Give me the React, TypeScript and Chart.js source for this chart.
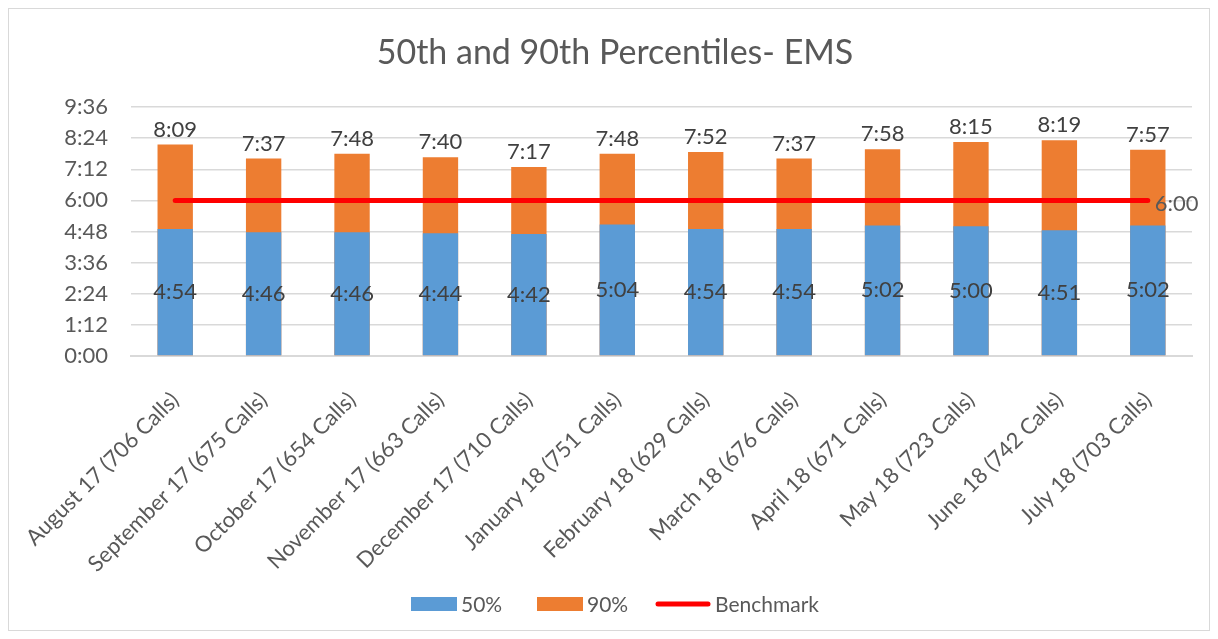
import { useEffect, useRef } from "react";
import { Chart, registerables } from "chart.js";

Chart.register(...registerables);

const categories = [
  "August 17 (706 Calls)",
  "September 17 (675 Calls)",
  "October 17 (654 Calls)",
  "November 17 (663 Calls)",
  "December 17 (710 Calls)",
  "January 18 (751 Calls)",
  "February 18 (629 Calls)",
  "March 18 (676 Calls)",
  "April 18 (671 Calls)",
  "May 18 (723 Calls)",
  "June 18 (742 Calls)",
  "July 18 (703 Calls)",
];
const p50 = ["4:54", "4:46", "4:46", "4:44", "4:42", "5:04", "4:54", "4:54", "5:02", "5:00", "4:51", "5:02"];
const p90 = ["8:09", "7:37", "7:48", "7:40", "7:17", "7:48", "7:52", "7:37", "7:58", "8:15", "8:19", "7:57"];
const benchmark = ["6:00", "6:00", "6:00", "6:00", "6:00", "6:00", "6:00", "6:00", "6:00", "6:00", "6:00", "6:00"];
const yTickLabels = ["0:00", "1:12", "2:24", "3:36", "4:48", "6:00", "7:12", "8:24", "9:36"];

const toSec = (s: string) => {
  const [m, ss] = s.split(":").map(Number);
  return m * 60 + ss;
};
const fmt = (v: number) => `${Math.floor(v / 60)}:${String(Math.round(v % 60)).padStart(2, "0")}`;

const FONT = "Lato, 'Open Sans', sans-serif";
const TEXT = "#595959";
const LABEL = "#404040";
const BLUE = "#5B9BD5";
const ORANGE = "#ED7D31";
const RED = "#FF0000";

const labelPlugin = {
  id: "valueLabels",
  afterDatasetsDraw(chart: any) {
    const ctx = chart.ctx;
    ctx.save();
    ctx.font = `22px ${FONT}`;
    ctx.fillStyle = LABEL;
    ctx.textAlign = "center";
    ctx.textBaseline = "middle";
    const m50 = chart.getDatasetMeta(0);
    m50.data.forEach((bar: any, i: number) => {
      ctx.fillText(p50[i], bar.x, (bar.y + bar.base) / 2);
    });
    const m90 = chart.getDatasetMeta(1);
    m90.data.forEach((bar: any, i: number) => {
      ctx.fillText(p90[i], bar.x, bar.y - 15);
    });
    const ml = chart.getDatasetMeta(2);
    const last = ml.data[ml.data.length - 1];
    ctx.textAlign = "left";
    ctx.fillStyle = TEXT;
    ctx.fillText(benchmark[benchmark.length - 1], last.x + 7, last.y + 4);
    ctx.restore();
  },
};

const legendPlugin = {
  id: "customLegend",
  afterDraw(chart: any) {
    const ctx = chart.ctx;
    ctx.save();
    ctx.font = `21px ${FONT}`;
    ctx.textBaseline = "middle";
    const items = [
      { text: "50%", color: BLUE, kind: "box", x: 402 },
      { text: "90%", color: ORANGE, kind: "box", x: 528 },
      { text: "Benchmark", color: RED, kind: "line", x: 646 },
    ];
    const y = 595;
    items.forEach((it) => {
      const boxW = it.kind === "box" ? 46 : 56;
      if (it.kind === "box") {
        ctx.fillStyle = it.color;
        ctx.fillRect(it.x, y - 7, boxW, 14);
      } else {
        ctx.strokeStyle = it.color;
        ctx.lineWidth = 5;
        ctx.lineCap = "round";
        ctx.beginPath();
        ctx.moveTo(it.x + 3, y);
        ctx.lineTo(it.x + boxW - 3, y);
        ctx.stroke();
      }
      ctx.fillStyle = TEXT;
      ctx.textAlign = "left";
      ctx.fillText(it.text, it.x + boxW + 4, y + 1);
    });
    ctx.restore();
  },
};

export default function App() {
  const ref = useRef<HTMLCanvasElement | null>(null);
  useEffect(() => {
    if (!ref.current) return;
    const chart = new Chart(ref.current, {
      type: "bar",
      data: {
        labels: categories,
        datasets: [
          {
            type: "bar",
            label: "50%",
            data: p50.map(toSec),
            backgroundColor: BLUE,
            barPercentage: 0.4,
            categoryPercentage: 1,
            order: 1,
          },
          {
            type: "bar",
            label: "90%",
            data: p90.map(toSec),
            backgroundColor: ORANGE,
            barPercentage: 0.4,
            categoryPercentage: 1,
            order: 2,
          },
          {
            type: "line",
            label: "Benchmark",
            data: benchmark.map(toSec),
            borderColor: RED,
            backgroundColor: RED,
            borderWidth: 5,
            borderCapStyle: "round",
            pointRadius: 0,
            fill: false,
            order: 0,
          } as any,
        ],
      },
      options: {
        responsive: false,
        animation: false,
        devicePixelRatio: 1,
        layout: { padding: { left: 29, right: 17, top: 0, bottom: 0 } },
        plugins: {
          legend: { display: false },
          tooltip: { enabled: false },
          title: {
            display: true,
            text: "50th and 90th Percentiles- EMS",
            color: TEXT,
            font: { family: FONT, size: 34, weight: "normal" },
            padding: { top: 24, bottom: 33.2 },
          },
        },
        scales: {
          x: {
            stacked: true,
            grid: { display: false, drawTicks: false },
            border: { color: "#D9D9D9", width: 2 },
            ticks: {
              autoSkip: false,
              maxRotation: 45,
              minRotation: 45,
              padding: 31,
              color: TEXT,
              font: { family: FONT, size: 22 },
            },
            afterFit: (scale: any) => {
              scale.height = 274;
              scale.paddingLeft = 0;
              scale.paddingRight = 0;
            },
          },
          y: {
            stacked: false,
            min: 0,
            max: toSec(yTickLabels[yTickLabels.length - 1]),
            afterBuildTicks: (scale: any) => {
              scale.ticks = yTickLabels.map((t) => ({ value: toSec(t) }));
            },
            grid: { color: "#D9D9D9", lineWidth: 1.5, drawTicks: false },
            border: { display: false },
            ticks: {
              padding: 23,
              color: TEXT,
              font: { family: FONT, size: 22 },
              callback: (v: any) => fmt(Number(v)),
            },
            afterFit: (scale: any) => {
              scale.width = 93;
            },
          },
        },
      },
      plugins: [labelPlugin, legendPlugin],
    });
    return () => chart.destroy();
  }, []);
  return (
    <div
      style={{
        width: 1202,
        height: 623,
        boxSizing: "border-box",
        border: "1px solid #D9D9D9",
        background: "#fff",
      }}
    >
      <canvas ref={ref} width={1200} height={621} style={{ display: "block" }} />
    </div>
  );
}
